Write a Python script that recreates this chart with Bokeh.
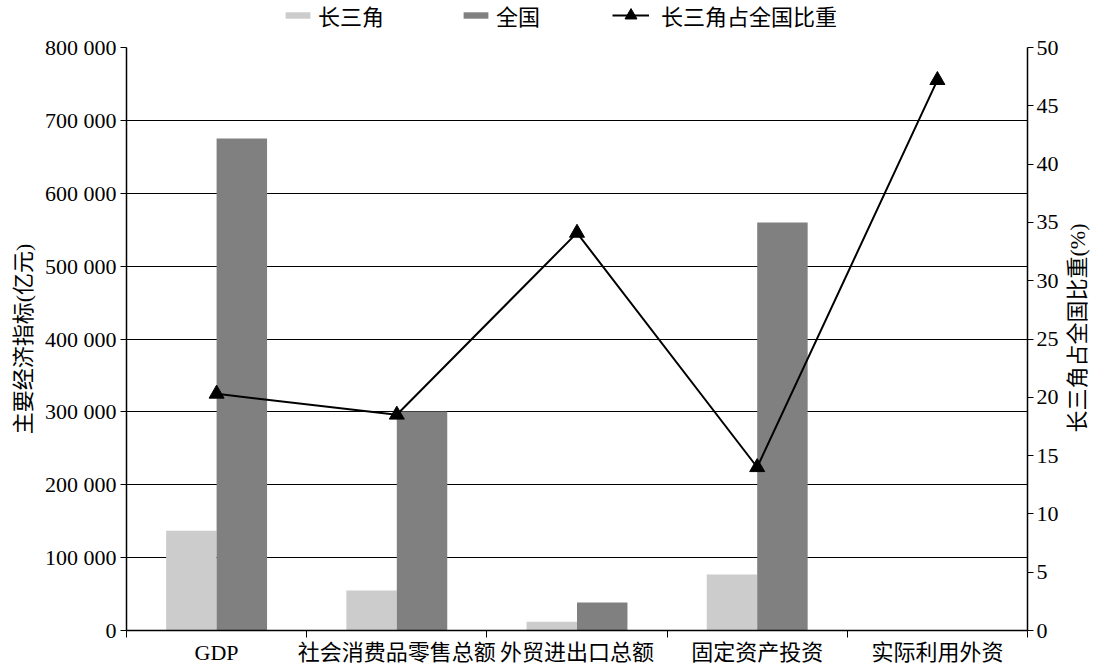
import math
from bokeh.plotting import figure
from bokeh.layouts import column
from bokeh.models import (Range1d, LinearAxis, FixedTicker, Legend, LegendItem,
                          ColumnDataSource)
from bokeh.transform import dodge
from bokeh.embed import file_html
from bokeh.resources import INLINE

# ---- data ----
categories = ["GDP", "社会消费品零售总额", "外贸进出口总额", "固定资产投资", "实际利用外资"]
yrd = [137000, 55000, 12000, 77000, 0]          # 长三角 (亿元)
national = [675000, 300500, 38500, 560000, 0]   # 全国 (亿元)
share = [20.3, 18.5, 34.1, 14.0, 47.2]          # 长三角占全国比重 (%)
left_ticks = [0, 100000, 200000, 300000, 400000, 500000, 600000, 700000, 800000]
right_ticks = [0, 5, 10, 15, 20, 25, 30, 35, 40, 45, 50]
series_names = ["长三角", "全国", "长三角占全国比重"]
left_title = "主要经济指标(亿元)"
right_title = "长三角占全国比重(%)"

FONT = "Liberation Serif, Noto Sans CJK SC"
LIGHT = "#cccccc"
DARK = "#808080"
W = 1089

xs = [i + 0.5 for i in range(len(categories))]
src = ColumnDataSource(dict(x=xs, yrd=yrd, national=national, share=share))

p = figure(frame_width=901, frame_height=583, output_backend="svg", toolbar_location=None,
           x_range=Range1d(0, len(categories)), y_range=Range1d(0, 800000),
           min_border_left=126, min_border_right=62, min_border_top=15,
           min_border_bottom=36)
p.extra_y_ranges = {"pct": Range1d(0, 50)}
p.outline_line_color = None
p.background_fill_color = "white"

b1 = p.vbar(x=dodge("x", -0.14, range=p.x_range), top="yrd", width=0.28,
            source=src, fill_color=LIGHT, line_color=None)
b2 = p.vbar(x=dodge("x", 0.14, range=p.x_range), top="national", width=0.28,
            source=src, fill_color=DARK, line_color=None)
ln = p.line(x="x", y="share", source=src, y_range_name="pct",
            line_color="black", line_width=2)
mk = p.scatter(x="x", y="share", source=src, y_range_name="pct",
               marker="triangle", size=15, fill_color="black", line_color="black")

# x axis: labels at centers, ticks at boundaries
xa = p.xaxis[0]
xa.ticker = FixedTicker(ticks=xs, minor_ticks=list(range(len(categories) + 1)))
xa.major_label_overrides = {x: c for x, c in zip(xs, categories)}
xa.major_tick_out = 0
xa.major_tick_in = 0
xa.minor_tick_out = 7
xa.minor_tick_in = 0
xa.minor_tick_line_color = "black"
xa.axis_line_color = "black"
xa.axis_line_width = 1.5
xa.major_label_text_font = FONT
xa.major_label_text_font_size = "22px"
xa.major_label_text_color = "black"
xa.major_label_standoff = 2

# left axis
ya = p.yaxis[0]
ya.ticker = FixedTicker(ticks=left_ticks, minor_ticks=[])
ya.major_label_overrides = {t: f"{t:,}".replace(",", " ") for t in left_ticks}
ya.axis_label = left_title
ya.axis_label_text_font = FONT
ya.axis_label_text_font_size = "22px"
ya.axis_label_text_font_style = "normal"
ya.axis_label_text_color = "black"
ya.axis_label_standoff = 6
ya.major_label_text_font = FONT
ya.major_label_text_font_size = "22px"
ya.major_label_text_color = "black"
ya.major_tick_out = 6
ya.major_tick_in = 0
ya.major_label_standoff = 4
ya.axis_line_color = "black"
ya.axis_line_width = 1.5
ya.major_tick_line_color = "black"

# right axis (title reads bottom-to-top; ideographic spaces lift it to the middle)
ra = LinearAxis(y_range_name="pct", ticker=FixedTicker(ticks=right_ticks, minor_ticks=[]))
ra.axis_label = "\u3000" * 9 + right_title
ra.axis_label_orientation = math.pi / 2
ra.axis_label_align = "start"
ra.axis_label_text_font = FONT
ra.axis_label_text_font_size = "22px"
ra.axis_label_text_font_style = "normal"
ra.axis_label_text_color = "black"
ra.axis_label_standoff = 16
ra.major_label_text_font = FONT
ra.major_label_text_font_size = "22px"
ra.major_label_text_color = "black"
ra.major_tick_out = 6
ra.major_tick_in = 0
ra.major_label_standoff = 3
ra.axis_line_color = "black"
ra.axis_line_width = 1.5
ra.major_tick_line_color = "black"
p.add_layout(ra, "right")

# grid
p.xgrid.grid_line_color = None
p.ygrid.ticker = FixedTicker(ticks=left_ticks)
p.ygrid.grid_line_color = "black"
p.ygrid.grid_line_width = 1.2

# ---- legend strip above the chart ----
lf = figure(width=W, height=32, output_backend="svg", toolbar_location=None,
            x_range=Range1d(0, 1), y_range=Range1d(0, 1),
            min_border=0)
lf.axis.visible = False
lf.grid.visible = False
lf.outline_line_color = None
e = ColumnDataSource(dict(x=[-10], y=[-10]))
lb1 = lf.vbar(x="x", top="y", width=0.1, source=e, fill_color=LIGHT, line_color=None)
lb2 = lf.vbar(x="x", top="y", width=0.1, source=e, fill_color=DARK, line_color=None)
lln = lf.line(x="x", y="y", source=e, line_color="black", line_width=2)
lmk = lf.scatter(x="x", y="y", source=e, marker="triangle", size=12,
                 fill_color="black", line_color="black")


def style(lg):
    lg.label_text_font = FONT
    lg.label_text_font_size = "22px"
    lg.label_text_color = "black"
    lg.border_line_color = None
    lg.background_fill_alpha = 0
    lg.padding = 0
    lg.margin = 0


legA = Legend(items=[
    LegendItem(label=series_names[0], renderers=[lb1]),
    LegendItem(label=series_names[1], renderers=[lb2]),
], orientation="horizontal", location=(156, 1))
style(legA)
legA.glyph_width = 31
legA.glyph_height = 8
legA.label_standoff = 5
legA.spacing = 76

legB = Legend(items=[
    LegendItem(label=series_names[2], renderers=[lln, lmk]),
], orientation="horizontal", location=(486, 1))
style(legB)
legB.glyph_width = 37
legB.glyph_height = 30
legB.label_standoff = 12

lf.add_layout(legA, "center")
lf.add_layout(legB, "center")

layout = column(lf, p, spacing=0)
open("out.html", "w").write(file_html(layout, INLINE))
